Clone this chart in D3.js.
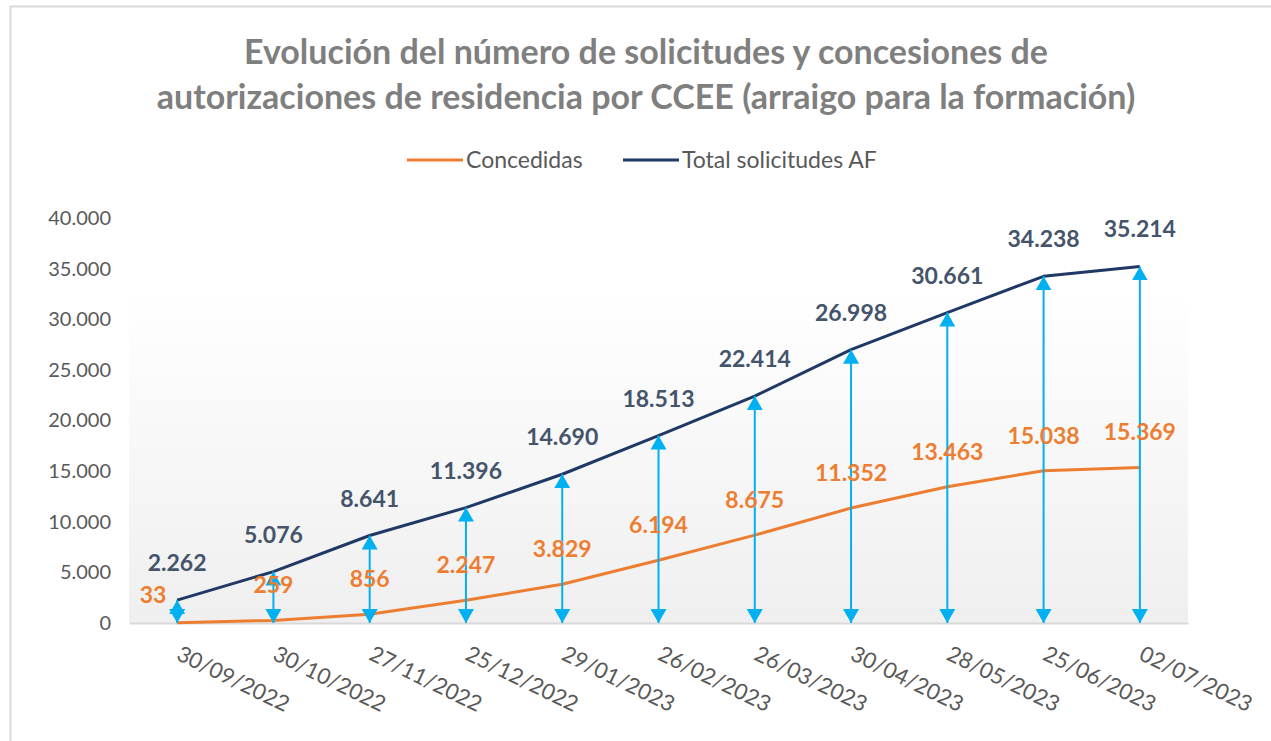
<!DOCTYPE html>
<html>
<head>
<meta charset="utf-8">
<script src="https://cdn.jsdelivr.net/npm/d3@7"></script>
<style>
  body { margin: 0; background: #fff; }
  text { font-family: Lato, "Open Sans", sans-serif; }
</style>
</head>
<body>
<div id="chart"></div>
<script>
const fechas = ["30/09/2022", "30/10/2022", "27/11/2022", "25/12/2022", "29/01/2023",
    "26/02/2023", "26/03/2023", "30/04/2023", "28/05/2023", "25/06/2023", "02/07/2023"];
const concedidas = [33, 259, 856, 2247, 3829, 6194, 8675, 11352, 13463, 15038, 15369];
const totalSolicitudes = [2262, 5076, 8641, 11396, 14690, 18513, 22414, 26998, 30661, 34238, 35214];
const yTicks = [0, 5000, 10000, 15000, 20000, 25000, 30000, 35000, 40000];
const titulo = ["Evolución del número de solicitudes y concesiones de",
    "autorizaciones de residencia por CCEE (arraigo para la formación)"];

const W = 1271, H = 741;
const plot = { left: 129, right: 1188, top: 218, bottom: 623 };

const colors = {
    concedidas: "#ed7d31",
    total: "#1f3864",
    totalLabel: "#44546a",
    arrow: "#00b0f0",
    axis: "#595959",
    title: "#7f7f7f"
};

const esLocale = d3.formatLocale({ decimal: ",", thousands: ".", grouping: [3], currency: ["", "€"] });
const fmt = esLocale.format(",d");

const svg = d3.select("#chart")
    .append("svg")
    .attr("width", W)
    .attr("height", H);

const defs = svg.append("defs");
const grad = defs.append("linearGradient")
    .attr("id", "bg")
    .attr("x1", 0).attr("y1", 0).attr("x2", 0).attr("y2", 1);
grad.append("stop").attr("offset", "0%").attr("stop-color", "#ffffff");
grad.append("stop").attr("offset", "100%").attr("stop-color", "#efefef");

defs.append("marker")
    .attr("id", "head")
    .attr("viewBox", "0 0 14 16")
    .attr("refX", 14).attr("refY", 8)
    .attr("markerWidth", 14).attr("markerHeight", 16)
    .attr("markerUnits", "userSpaceOnUse")
    .attr("orient", "auto-start-reverse")
    .append("path")
    .attr("d", "M0,0 L14,8 L0,16 Z")
    .attr("fill", colors.arrow);

// outer border
svg.append("rect")
    .attr("x", 10.5).attr("y", 6.5)
    .attr("width", W + 20).attr("height", H + 20)
    .attr("fill", "none")
    .attr("stroke", "#d9d9d9")
    .attr("stroke-width", 2);

// title
svg.append("text")
    .attr("text-anchor", "middle")
    .attr("font-size", 34)
    .attr("font-weight", "bold")
    .attr("fill", colors.title)
    .selectAll("tspan")
    .data(titulo)
    .join("tspan")
    .attr("x", 646)
    .attr("y", (d, i) => 64 + i * 45)
    .text(d => d);

// legend
const legendItems = [
    { name: "Concedidas", color: colors.concedidas, x: 407 },
    { name: "Total solicitudes AF", color: colors.total, x: 623 }
];
const lg = svg.append("g").selectAll("g").data(legendItems).join("g")
    .attr("transform", d => `translate(${d.x},160)`);
lg.append("line")
    .attr("x1", 0).attr("x2", 56)
    .attr("stroke", d => d.color)
    .attr("stroke-width", 3);
lg.append("text")
    .attr("x", 59).attr("y", 8)
    .attr("font-size", 23)
    .attr("fill", colors.axis)
    .text(d => d.name);

const x = d3.scaleBand()
    .domain(fechas)
    .range([plot.left, plot.right]);

const y = d3.scaleLinear()
    .domain([0, 40000])
    .range([plot.bottom, plot.top]);

const cx = d => x(d) + x.bandwidth() / 2;

// plot background (gradient band)
svg.append("rect")
    .attr("x", plot.left)
    .attr("y", y(32800))
    .attr("width", plot.right - plot.left)
    .attr("height", plot.bottom - y(32800))
    .attr("fill", "url(#bg)");

// y axis
const yAxis = svg.append("g")
    .attr("transform", `translate(${plot.left},0)`)
    .call(d3.axisLeft(y).tickValues(yTicks).tickFormat(fmt).tickSize(0).tickPadding(18));
yAxis.select(".domain").remove();
yAxis.selectAll("text")
    .attr("font-size", 20)
    .attr("fill", colors.axis)
    .style("font-family", "Lato, 'Open Sans', sans-serif");

// x axis
const xAxis = svg.append("g")
    .attr("transform", `translate(0,${plot.bottom})`)
    .call(d3.axisBottom(x).tickSize(0).tickFormat(d => d));
xAxis.select(".domain")
    .attr("stroke", "#d9d9d9")
    .attr("stroke-width", 2);
xAxis.selectAll("text")
    .attr("font-size", 22)
    .attr("fill", colors.axis)
    .attr("text-anchor", "start")
    .attr("dy", 0)
    .attr("y", 0)
    .attr("transform", "translate(-2,36) rotate(26)")
    .style("font-family", "Lato, 'Open Sans', sans-serif");

// lines
const line = d3.line()
    .x((d, i) => cx(fechas[i]))
    .y(d => y(d));

svg.append("path")
    .datum(concedidas)
    .attr("d", line)
    .attr("fill", "none")
    .attr("stroke", colors.concedidas)
    .attr("stroke-width", 3)
    .attr("stroke-linejoin", "round");

svg.append("path")
    .datum(totalSolicitudes)
    .attr("d", line)
    .attr("fill", "none")
    .attr("stroke", colors.total)
    .attr("stroke-width", 3)
    .attr("stroke-linejoin", "round");

// double-headed arrows from 0 to total
svg.append("g").selectAll("line")
    .data(totalSolicitudes)
    .join("line")
    .attr("x1", (d, i) => cx(fechas[i]))
    .attr("x2", (d, i) => cx(fechas[i]))
    .attr("y1", y(0))
    .attr("y2", d => y(d))
    .attr("stroke", colors.arrow)
    .attr("stroke-width", 2)
    .attr("marker-start", "url(#head)")
    .attr("marker-end", "url(#head)");

// data labels
svg.append("g").selectAll("text")
    .data(totalSolicitudes)
    .join("text")
    .attr("x", (d, i) => cx(fechas[i]))
    .attr("y", d => y(d) - 29)
    .attr("text-anchor", "middle")
    .attr("font-size", 23)
    .attr("font-weight", "bold")
    .attr("fill", colors.totalLabel)
    .text(d => fmt(d));

svg.append("g").selectAll("text")
    .data(concedidas)
    .join("text")
    .attr("x", (d, i) => i === 0 ? cx(fechas[i]) - 24 : cx(fechas[i]))
    .attr("y", (d, i) => i === 0 ? y(d) - 20 : y(d) - 27)
    .attr("text-anchor", "middle")
    .attr("font-size", 23)
    .attr("font-weight", "bold")
    .attr("fill", colors.concedidas)
    .text(d => fmt(d));
</script>
</body>
</html>
